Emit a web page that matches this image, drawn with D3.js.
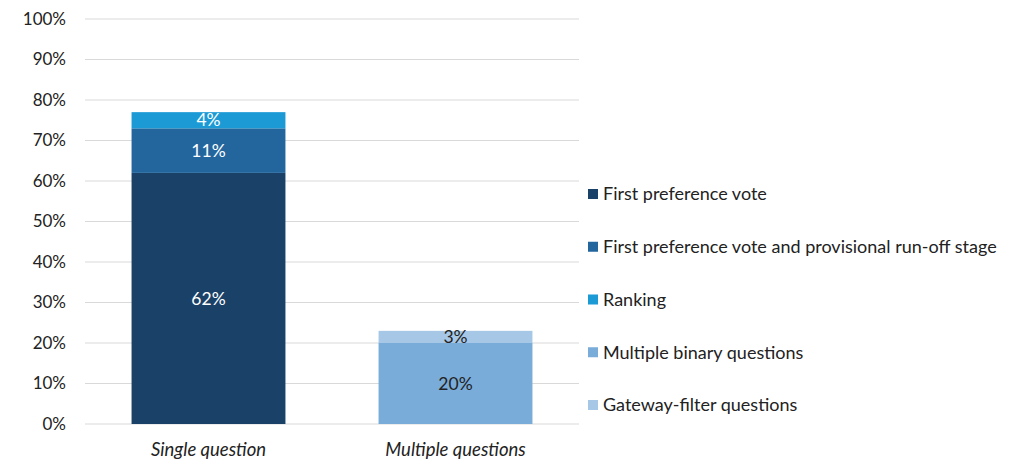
<!DOCTYPE html>
<html><head><meta charset="utf-8">
<script src="https://cdn.jsdelivr.net/npm/d3@7"></script>
<style>body{margin:0;background:#fff;}svg{display:block;font-family:Lato,"Open Sans",sans-serif;}</style>
</head><body>
<svg id="c" width="1022" height="461"></svg>
<script>
const categories = ["Single question", "Multiple questions"];
const seriesNames = ["First preference vote", "First preference vote and provisional run-off stage", "Ranking", "Multiple binary questions", "Gateway-filter questions"];
const firstPref = [62, 0];
const runOff = [11, 0];
const ranking = [4, 0];
const multipleBinary = [0, 20];
const gateway = [0, 3];
const yTicks = [0, 10, 20, 30, 40, 50, 60, 70, 80, 90, 100];
const colors = ["#1a4167", "#23669e", "#1b9ad6", "#79acd9", "#a6c8e6"];
const labelColors = ["#fff", "#fff", "#fff", "#222", "#222"];

const seriesValues = [firstPref, runOff, ranking, multipleBinary, gateway];
const data = categories.map((c, i) => {
  const o = {cat: c};
  seriesNames.forEach((s, j) => o[s] = seriesValues[j][i]);
  return o;
});

const svg = d3.select("#c");
const x = d3.scaleBand().domain(categories).range([85, 579]);
const y = d3.scaleLinear().domain([0, 100]).range([424, 19]);

svg.append("g").selectAll("line").data(yTicks).join("line")
  .attr("x1", 85).attr("x2", 579)
  .attr("y1", d => y(d)).attr("y2", d => y(d))
  .attr("stroke", "#d9d9d9").attr("stroke-width", 1);

const yAxis = d3.axisLeft(y).tickValues(yTicks).tickFormat(d => d + "%").tickSize(0).tickPadding(19);
const ya = svg.append("g").attr("transform", "translate(85,0)").call(yAxis);
ya.select(".domain").remove();
ya.selectAll("text").attr("font-size", 17).attr("fill", "#222").attr("font-family", "Lato, 'Open Sans', sans-serif");

const stack = d3.stack().keys(seriesNames)(data);
const bw = x.bandwidth() * 0.623;

const g = svg.append("g");
stack.forEach((layer, j) => {
  layer.forEach((d, i) => {
    const v = d[1] - d[0];
    if (v <= 0) return;
    const cx = x(categories[i]) + x.bandwidth() / 2;
    g.append("rect")
      .attr("x", cx - bw / 2).attr("width", bw)
      .attr("y", y(d[1])).attr("height", y(d[0]) - y(d[1]))
      .attr("fill", colors[j]);
    g.append("text")
      .attr("x", cx).attr("y", (y(d[0]) + y(d[1])) / 2)
      .attr("dy", "0.35em").attr("text-anchor", "middle")
      .attr("font-size", 17.5).attr("fill", labelColors[j])
      .text(v + "%");
  });
});

const xAxis = d3.axisBottom(x).tickSize(0).tickPadding(19);
const xa = svg.append("g").attr("transform", "translate(0,424)").call(xAxis);
xa.select(".domain").remove();
xa.selectAll("text").attr("font-size", 18.5).attr("font-style", "italic").attr("fill", "#222").attr("font-family", "Lato, 'Open Sans', sans-serif");

const leg = svg.append("g");
seriesNames.forEach((s, j) => {
  const ly = 194 + j * 52.75;
  leg.append("rect").attr("x", 588).attr("y", ly - 5).attr("width", 10).attr("height", 10).attr("fill", colors[j]);
  leg.append("text").attr("x", 603).attr("y", ly).attr("dy", "0.35em")
    .attr("font-size", 18).attr("fill", "#222").text(s);
});
</script>
</body></html>
